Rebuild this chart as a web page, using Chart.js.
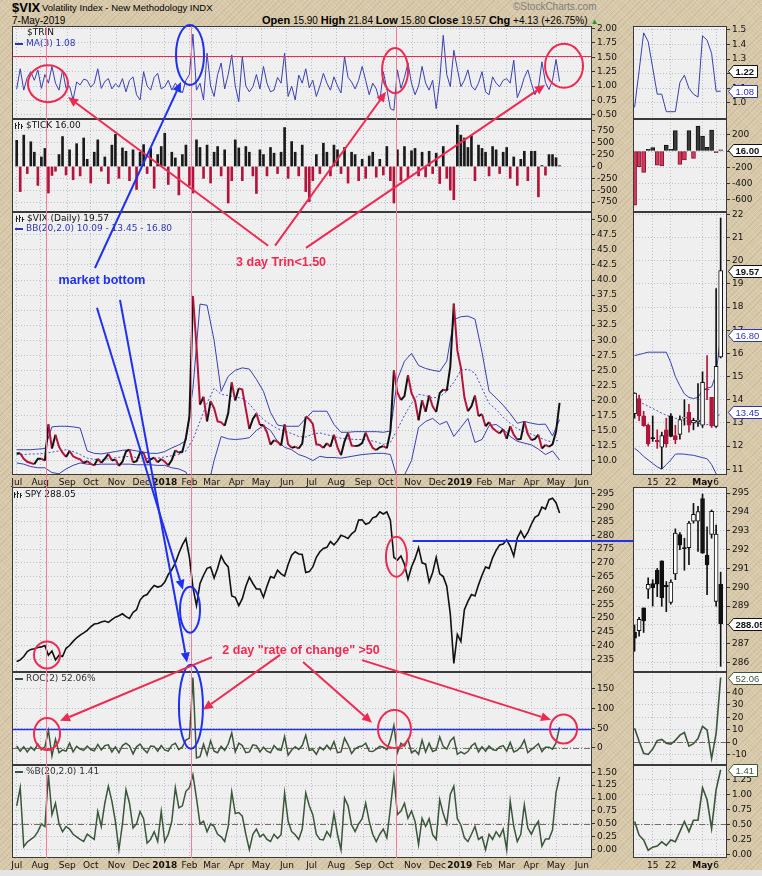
<!DOCTYPE html>
<html>
<head>
<meta charset="utf-8">
<title>$VIX Volatility Index - New Methodology</title>
<script src="https://cdn.jsdelivr.net/npm/chart.js@4.4.1/dist/chart.umd.min.js"></script>
<style>
  html, body { margin: 0; padding: 0; }
  #wrap {
    position: relative; width: 762px; height: 876px; overflow: hidden;
    background-color: #d7c8a9;
    background-image:
      repeating-linear-gradient(45deg, rgba(255,255,255,0.13) 0 1px, transparent 1px 3px),
      repeating-linear-gradient(-45deg, rgba(110,80,40,0.10) 0 1px, transparent 1px 4px);
  }
  #wrap canvas { position: absolute; }
  .t { position: absolute; white-space: nowrap; font-family: "Liberation Sans", Arial, sans-serif; color: #000; line-height: 1; }
</style>
</head>
<body>
<div id="wrap">
  <div class="t" style="left:12px;top:1px;font-size:13px;font-weight:bold;">$VIX</div>
  <div class="t" style="left:42px;top:3px;font-size:9.5px;">Volatility Index - New Methodology INDX</div>
  <div class="t" style="left:513px;top:2px;font-size:10px;color:#7d7d7d;">©StockCharts.com</div>
  <div class="t" style="left:12px;top:16px;font-size:10px;">7-May-2019</div>
  <div class="t" style="left:262px;top:15px;font-size:10px;"><b style="font-size:11px">Open</b> 15.90 <b style="font-size:11px">High</b> 21.84 <b style="font-size:11px">Low</b> 15.80 <b style="font-size:11px">Close</b> 19.57 <b style="font-size:11px">Chg</b> +4.13 (+26.75%) <span style="color:#1d9a2c;font-size:8px">▲</span></div>
  <canvas id="ov" width="762" height="876" style="left:0;top:0;z-index:5;"></canvas>
  <div style="position:absolute;left:0;top:870px;width:762px;height:6px;background:#e4e4e4;"></div>
</div>
<script>
// samples every 3 trading days, index 0 = 3-Jul-2017, last sample = 7-May-2019
const STEP = 3;

const TRIN_MA3 = [
  0.95,1.30,0.93,1.15,1.25,1.10,1.28,0.96,1.20,1.05,
  1.34,1.05,0.93,1.28,0.96,1.00,0.76,1.07,1.02,1.12,
  1.10,0.98,1.05,1.30,0.96,1.08,1.13,0.95,1.04,0.98,
  1.13,0.90,1.10,1.16,0.85,0.76,1.25,1.00,0.93,1.15,
  1.22,0.95,0.99,1.10,0.93,1.05,0.96,0.88,1.10,1.20,
  1.90,0.93,1.05,0.76,1.57,1.00,0.82,1.20,1.40,0.95,
  1.20,1.54,1.00,0.73,1.51,1.00,0.90,0.99,1.20,0.95,
  1.34,1.05,0.90,0.93,1.15,1.05,1.57,0.82,1.00,0.76,
  1.19,1.05,1.30,0.97,1.10,0.82,1.00,1.22,1.05,0.93,
  1.16,1.00,0.88,1.51,1.15,1.07,0.95,1.10,1.34,1.10,
  0.85,1.05,0.95,0.73,1.25,0.95,0.61,0.58,1.28,0.96,
  1.15,1.40,1.05,0.85,1.00,1.34,1.05,0.93,1.10,0.61,
  1.10,1.88,1.20,0.99,1.62,1.30,0.99,1.10,1.28,1.00,
  0.93,1.05,1.25,0.90,0.85,1.16,1.05,0.99,1.10,1.13,
  1.05,1.45,0.80,0.95,1.15,1.28,1.05,0.85,0.97,1.42,
  1.06,0.94,1.10,1.46,1.08
];

const TICK = [
  550,-530,660,-150,520,300,-400,200,380,-560,
  -190,-100,250,630,-180,350,-280,480,-200,600,
  150,-350,300,560,-100,200,-360,450,675,-250,
  390,320,-300,350,-485,300,460,-150,380,-460,
  250,420,700,-380,300,180,-600,250,450,-400,
  -560,560,400,-250,450,-350,300,420,-200,350,
  -770,-300,560,390,-300,420,300,-200,-570,350,
  250,-200,400,280,-150,300,820,-250,525,300,
  -200,450,-530,-740,-300,250,-150,490,300,-200,
  450,350,-150,400,-350,300,250,-300,150,-250,
  220,300,-225,150,-180,420,-300,-770,350,-300,
  420,-250,330,380,-200,300,-220,320,-150,280,
  -360,420,-250,-500,-700,870,660,600,400,650,
  -300,450,380,300,-200,420,350,-150,300,400,
  -250,200,-400,150,320,-300,320,320,-640,20,
  -184,250,250,184,16
];

const VIX_CLOSE = [
  11.2,11.2,10.3,9.8,9.6,9.4,10.3,10.3,10.0,16.0,
  12.0,14.3,12.3,11.3,10.6,11.6,10.7,10.4,10.2,9.6,
  9.9,9.45,9.2,10.3,9.6,10.3,11.1,10.0,10.2,9.1,
  9.8,11.5,11.8,9.7,9.9,11.3,11.3,9.6,10.2,10.5,
  9.7,10.25,9.8,9.2,10.1,11.7,11.3,11.5,13.8,17.3,
  37.3,29.1,19.3,20.6,16.5,19.85,18.7,16.5,16.35,15.8,
  17.9,23.0,19.97,22.0,21.8,18.5,15.25,16.9,17.8,15.9,
  15.9,14.7,12.65,13.4,13.1,12.5,16.0,12.7,12.1,12.3,
  12.0,12.8,17.3,16.85,16.1,12.7,12.6,12.1,12.9,12.3,
  14.3,12.2,10.9,13.2,14.6,12.5,12.4,12.5,12.9,14.65,
  13.2,12.1,11.75,12.2,12.4,12.05,14.8,24.98,21.3,20.06,
  20.7,24.2,21.2,19.96,16.7,20.0,18.1,20.8,19.0,18.07,
  21.2,21.8,21.6,25.6,36.07,28.3,25.45,20.5,18.2,19.0,
  20.8,17.4,17.7,15.7,16.4,15.4,14.9,14.5,15.2,13.6,
  15.7,14.3,13.5,13.6,16.5,14.4,13.4,13.6,14.3,12.0,
  12.6,12.3,12.7,14.8,19.57
];

const SPY_CLOSE = [
  234.2,234.8,236.0,237.8,238.6,238.8,239.3,239.5,240.0,236.5,
  238.0,234.8,236.5,236.0,239.0,240.0,241.5,242.8,243.8,244.6,
  245.5,246.8,247.8,248.0,248.5,248.9,248.4,249.4,250.3,250.8,
  251.5,250.5,249.8,252.0,253.0,256.5,258.0,258.5,260.3,261.8,
  261.2,261.6,263.0,265.8,267.5,270.0,273.5,276.5,278.8,272.0,
  261.0,254.5,262.5,265.5,268.0,268.5,264.5,268.0,272.5,270.0,
  268.5,258.0,257.5,254.5,257.0,261.5,264.8,262.5,260.5,260.5,
  257.5,261.5,265.0,264.5,267.3,266.0,265.2,269.4,272.8,274.0,
  273.2,273.0,266.5,266.8,268.5,272.0,274.0,275.2,275.6,277.7,
  276.5,278.0,280.0,279.5,278.8,280.5,281.5,285.5,285.6,284.0,
  284.5,286.3,286.8,288.5,287.7,288.5,285.5,272.0,271.0,272.5,
  269.5,264.0,268.5,271.5,275.5,270.0,269.5,263.0,266.5,272.0,
  266.0,265.0,261.5,251.5,233.5,244.0,241.5,253.0,256.0,258.5,
  258.0,262.0,265.5,268.5,268.0,271.8,274.5,276.5,276.8,278.3,
  276.0,272.5,279.0,281.5,279.0,281.0,284.0,286.5,287.3,290.2,
  289.5,292.9,293.4,291.8,288.05
];

const ROC2 = [
  5,-8,3,-10,2,-6,10,-4,3,44,
  -20,22,-12,-5,-8,12,-10,4,-3,-6,
  5,-4,-7,9,-5,6,8,-10,3,-12,
  6,12,5,-15,3,10,-3,-12,5,4,
  -8,6,-5,-8,7,12,-4,3,20,25,
  178,-25,-22,10,-18,18,-8,-12,4,-6,
  10,38,-10,12,6,-12,-10,8,6,-10,
  2,-8,-12,6,-4,-6,29,-18,-5,3,
  -4,6,32,-6,-4,-16,2,-5,7,-4,
  16,-12,-10,25,8,-14,-2,3,5,12,
  -8,-9,-3,4,2,-4,20,57,-12,12,
  5,22,-12,-6,-16,20,-10,12,-9,-5,
  28,4,-3,18,27,-16,-10,-15,-9,5,
  12,-10,3,-8,5,-4,-6,3,6,-8,
  14,-10,-6,3,20,-12,-4,3,11,-9,
  2,2,-3,13,52.06
];

const PCT_B = [
  0.85,1.2,0.06,0.15,0.2,0.25,0.35,0.5,0.45,1.45,
  0.68,0.9,0.5,0.35,0.45,0.4,0.3,0.25,0.2,0.16,
  0.3,0.25,0.2,0.74,0.45,0.9,1.23,0.94,0.55,0.0,
  0.5,1.16,0.9,0.42,0.5,0.74,0.6,0.13,0.2,0.35,
  0.16,0.74,0.16,0.3,0.55,1.2,0.81,0.85,1.13,1.2,
  1.45,1.0,0.5,0.55,0.35,0.5,0.45,0.3,0.25,0.16,
  0.45,1.12,0.7,0.72,0.65,0.3,0.0,0.3,0.4,0.25,
  0.3,0.2,0.16,0.3,0.22,0.29,1.1,0.55,0.35,0.29,
  0.2,0.4,1.1,0.85,0.68,0.3,0.2,0.19,0.35,0.25,
  0.7,0.3,0.0,1.0,0.85,0.48,0.35,0.5,0.6,0.9,
  0.55,0.3,0.16,0.3,0.4,0.23,0.8,1.42,0.68,0.75,
  0.9,0.61,0.75,0.55,0.1,0.61,0.45,0.6,0.29,0.2,
  0.97,0.7,0.5,1.07,1.23,0.6,0.48,0.23,0.16,0.3,
  0.45,0.2,0.25,0.0,0.3,0.2,0.35,0.25,0.4,0.0,
  0.94,0.45,0.16,0.3,0.87,0.42,0.3,0.45,0.55,0.07,
  0.21,0.21,0.38,1.11,1.41
];

// Bollinger bands (20,2) of VIX, every 6 trading days
const BB_STEP = 6;
const BB_UPPER = [
  11.8,11.8,11.8,11.9,12.0,15.6,15.7,15.7,15.6,15.4,
  11.6,11.2,11.1,11.3,11.5,11.7,11.8,11.6,11.4,11.2,
  11.2,11.5,12.1,12.6,13.3,22.0,36.0,35.8,30.0,21.5,
  24.0,25.0,25.4,25.2,23.5,21.5,18.0,15.9,15.7,15.7,
  15.7,17.0,18.2,18.2,18.2,16.0,14.7,14.7,14.8,14.8,
  14.8,14.8,14.7,14.9,23.5,26.5,27.8,25.8,25.3,25.0,
  24.8,26.5,33.4,33.9,34.0,33.5,28.0,21.5,20.4,19.2,
  17.8,16.2,16.5,16.2,16.0,16.05,14.1,16.8
];
const BB_MID = [
  11.0,11.0,11.1,11.1,11.2,11.4,11.6,11.8,11.5,11.0,
  10.4,10.2,10.1,10.3,10.5,10.6,10.7,10.5,10.4,10.3,
  10.4,10.6,10.8,11.0,11.6,13.5,16.5,19.5,22.0,21.0,
  20.8,20.6,20.3,19.4,18.0,16.8,16.0,15.3,14.9,14.5,
  14.0,13.9,14.4,14.6,14.3,14.0,13.7,13.6,13.5,13.5,
  13.4,13.1,12.7,13.0,15.2,17.5,19.5,21.0,20.8,20.4,
  20.6,21.5,23.0,25.0,25.2,24.5,22.0,19.5,18.5,17.2,
  16.2,15.3,14.8,14.4,13.9,13.4,13.05,13.45
];
const BB_LOWER = [
  9.6,9.4,9.0,8.8,8.8,8.0,7.8,8.6,9.2,9.6,
  9.4,9.3,9.4,9.4,9.4,9.4,9.4,9.3,9.3,9.3,
  9.2,9.2,8.8,8.6,8.1,5.0,2.0,5.0,10.0,14.0,
  13.6,13.5,13.6,13.8,15.0,15.8,15.0,13.2,12.2,11.8,
  11.0,10.6,10.0,10.7,10.5,10.5,10.4,10.6,10.8,11.0,
  11.1,11.2,11.2,11.0,7.0,7.6,10.0,15.5,16.5,17.0,
  16.0,16.5,14.0,15.5,17.0,13.0,13.5,15.8,16.0,15.2,
  14.0,13.2,12.9,12.6,11.9,11.0,11.6,10.1
];

// month axis: first session of each month (trading-day index) and its label
const MONTH_DAYS = [0,20,43,63,85,106,126,147,166,187,208,230,251,272,295,314,337,358,377,398,417,438,459,481];
const MONTH_LABELS = ['Jul','Aug','Sep','Oct','Nov','Dec','2018','Feb','Mar','Apr','May','Jun','Jul','Aug','Sep','Oct','Nov','Dec','2019','Feb','Mar','Apr','May','Jun'];

// right-hand zoom: 20 sessions, 9-Apr-2019 .. 7-May-2019
const R_TICK_DAYS = [4, 8, 15, 18];
const R_TICK_LABELS = ['15', '22', 'May', '6'];
const R_TRIN = [0.97,1.22,1.48,1.42,1.24,1.06,1.06,0.94,0.94,0.94,1.14,1.19,1.10,1.06,1.04,1.46,1.43,1.34,1.08,1.08];
const R_TICK = [-663,-192,-262,20,41,-172,-184,74,20,250,-164,-110,250,-90,307,184,45,258,-20,16];
const R_VIX_OPEN  = [13.4,14.05,13.3,12.9,12.35,12.25,11.95,12.7,13.3,12.45,12.5,13.2,13.45,13.0,13.05,12.9,14.45,14.1,12.85,15.85];
const R_VIX_HIGH  = [14.3,14.2,13.5,12.95,13.3,12.7,12.6,13.2,13.4,12.9,13.3,14.0,13.8,13.2,14.7,15.2,15.9,14.1,18.8,21.84];
const R_VIX_LOW   = [13.2,13.1,12.85,12.0,12.2,11.9,11.03,11.95,12.4,12.1,12.3,12.9,12.6,12.7,12.85,12.8,14.0,12.8,12.8,15.8];
const R_VIX_CLOSE = [14.28,13.3,12.88,12.09,12.32,12.18,12.45,12.09,12.42,12.28,13.14,13.25,12.9,13.11,13.12,14.75,14.42,12.87,15.44,19.57];
const R_BB_UPPER = [15.9,15.95,16.0,16.05,16.05,16.05,16.05,16.05,15.6,15.0,14.6,14.25,14.1,14.05,14.1,14.4,14.5,14.55,15.1,16.8];
const R_BB_MID   = [13.95,13.9,13.82,13.72,13.62,13.52,13.42,13.33,13.26,13.2,13.15,13.1,13.05,13.02,12.98,12.95,12.92,12.95,13.15,13.45];
const R_BB_LOWER = [11.9,11.75,11.55,11.4,11.25,11.1,11.0,11.2,11.4,11.65,11.66,11.65,11.62,11.6,11.55,11.5,11.45,11.2,10.8,10.09];
const R_SPY_OPEN  = [287.6,287.7,288.9,289.9,290.2,290.9,291.4,290.1,289.2,290.7,292.8,292.1,292.1,293.5,293.5,294.7,291.7,292.8,289.25,290.15];
const R_SPY_HIGH  = [288.0,288.4,288.9,290.5,290.4,291.0,291.4,290.3,290.4,293.1,292.9,292.6,293.5,294.45,294.3,294.95,293.2,294.1,293.3,290.8];
const R_SPY_LOW   = [286.6,287.4,287.6,289.4,289.0,289.5,288.99,288.7,289.1,290.4,292.0,290.9,291.2,293.4,291.9,291.8,289.6,292.6,289.0,285.8];
const R_SPY_CLOSE = [287.3,288.29,288.21,290.16,289.97,290.16,289.45,290.02,290.27,292.88,292.23,292.05,293.41,293.87,294.02,291.81,291.18,294.03,292.82,288.05];
const R_ROC2 = [11.4,0.9,-8.8,-9.7,-5.4,1.4,2.3,-0.7,-1.4,1.6,5.8,7.9,-3.1,-1.1,3.1,12.9,9.9,-13,7.1,52.06];
const R_PCT_B = [0.55,0.32,0.24,0.07,0.12,0.14,0.21,0.15,0.24,0.21,0.38,0.55,0.38,0.57,0.57,1.11,0.91,0.43,1.08,1.41];

// y axis tick values
const Y_TICKS = {
  trin: [0.5,0.75,1.0,1.25,1.5,1.75,2.0],
  tick: [-750,-500,-250,0,250,500,750],
  vix: [10,12.5,15,17.5,20,22.5,25,27.5,30,32.5,35,37.5,40,42.5,45,47.5,50],
  spy: [235,240,245,250,255,260,265,270,275,280,285,290,295],
  roc: [0,50,100,150],
  pctb: [0,0.25,0.5,0.75,1.0,1.25,1.5],
  rtrin: [1.0,1.1,1.2,1.3,1.4,1.5],
  rtick: [-600,-400,-200,0,200],
  rvix: [11,12,13,14,15,16,17,18,19,20,21,22],
  rspy: [286,287,288,289,290,291,292,293,294,295],
  rroc: [-10,0,10,20,30,40],
  rpctb: [0,0.25,0.5,0.75,1.0,1.25]
};

// annotations drawn on top (data coordinates of the named panel)
const MARK_DAYS = [25, 148, 323];
const TRIN_LIMIT = 1.52, ROC_LIMIT = 47, SPY_RESIST = 278, SPY_RESIST_FROM = 337;

const FONT = '"DejaVu Sans", sans-serif';
const GRID = '#b7c1ce';
const RED = '#b4143c', BLACK = '#111111', BLUE = '#3a40b0', GREEN = '#3b563b', DASHDOT = '#7d6b5c';
const RED_A = '#ef2a52', BLUE_A = '#1f30ee', RED_V = '#f27b95';

const LEFT = {left: 0, width: 630, padL: 12, yW: 38, xmin: -4, xmax: 489.6,
  ticks: MONTH_DAYS, labels: MONTH_LABELS, bold: /^(2018|2019)$/};
const RIGHT = {left: 620, width: 142, padL: 13, yW: 35, xmin: -0.35, xmax: 20.4,
  ticks: R_TICK_DAYS, labels: R_TICK_LABELS, bold: /^May$/};
const ROWS = {
  trin: {top: 26, h: 93}, tick: {top: 119, h: 93}, vix: {top: 212, h: 263, xLab: true},
  spy: {top: 487, h: 185}, roc: {top: 672, h: 93}, pctb: {top: 765, h: 93, xLab: true}
};
const PAD = 8, XLAB = 14;

const pts = (arr, step) => arr.map((v, i) => ({x: i * step, y: v}));

const EXTRA = {};
function refLines(chart, over) {
  const ex = EXTRA[chart.canvas.id] || {};
  const a = chart.chartArea, ctx = chart.ctx;
  ctx.save();
  ctx.beginPath(); ctx.rect(a.left, a.top, a.width, a.height); ctx.clip();
  for (const L of ex.lines || []) {
    if (!!L.over !== over) continue;
    const y = Math.round(chart.scales.y.getPixelForValue(L.v)) + 0.5;
    ctx.strokeStyle = L.c; ctx.lineWidth = L.w || 1; ctx.setLineDash(L.dash || []);
    ctx.beginPath(); ctx.moveTo(a.left, y); ctx.lineTo(a.right, y); ctx.stroke();
  }
  ctx.restore();
}
function drawIcon(ctx, x, y) {
  ctx.fillStyle = '#222';
  ctx.fillRect(x, y - 3, 1, 6); ctx.fillRect(x + 1, y - 1, 1, 1);
  ctx.fillRect(x + 3, y - 4, 1, 7); ctx.fillRect(x + 4, y - 2, 1, 1);
  ctx.fillRect(x + 6, y - 2, 1, 5); ctx.fillRect(x + 7, y, 1, 1);
}
function drawTag(ctx, a, yv, T) {
  ctx.font = (T.b ? 'bold ' : '') + '9.5px "Liberation Sans", Arial, sans-serif';
  const w = Math.ceil(ctx.measureText(T.t).width) + 5;
  const x0 = a.right + 1.5, y = Math.round(yv) + 0.5;
  ctx.beginPath();
  ctx.moveTo(x0, y); ctx.lineTo(x0 + 5, y - 6); ctx.lineTo(x0 + 5 + w, y - 6);
  ctx.lineTo(x0 + 5 + w, y + 6); ctx.lineTo(x0 + 5, y + 6); ctx.closePath();
  ctx.fillStyle = '#fff'; ctx.fill();
  ctx.strokeStyle = T.c; ctx.lineWidth = 1; ctx.stroke();
  ctx.fillStyle = T.c; ctx.textBaseline = 'middle'; ctx.textAlign = 'left';
  ctx.fillText(T.t, x0 + 7, y + 0.5);
}

Chart.register({
  id: 'scPanel',
  beforeDraw(chart) {
    const a = chart.chartArea, ctx = chart.ctx;
    ctx.save(); ctx.fillStyle = '#efefef'; ctx.fillRect(a.left, a.top, a.width, a.height); ctx.restore();
  },
  beforeDatasetsDraw(chart) { refLines(chart, false); },
  afterDatasetsDraw(chart) { refLines(chart, true); },
  afterDraw(chart) {
    const ex = EXTRA[chart.canvas.id] || {};
    const a = chart.chartArea, ctx = chart.ctx;
    ctx.save();
    ctx.strokeStyle = '#3a3a3a'; ctx.lineWidth = 1; ctx.setLineDash([]);
    ctx.strokeRect(a.left + 0.5, a.top + 0.5, a.width - 1, a.height - 1);
    for (const L of ex.labels || []) {
      const x = a.left + L.dx, y = a.top + L.dy;
      if (L.dash) { ctx.fillStyle = L.dash; ctx.fillRect(x - 11, Math.round(y) - 1, 8, 2); }
      if (L.icon) drawIcon(ctx, x - 11, Math.round(y));
      ctx.fillStyle = L.c || '#111'; ctx.font = '9px ' + FONT;
      ctx.textBaseline = 'middle'; ctx.textAlign = 'left';
      ctx.fillText(L.t, x, y);
    }
    for (const T of ex.tags || []) drawTag(ctx, a, chart.scales.y.getPixelForValue(T.v), T);
    ctx.restore();
  }
});

const wrap = document.getElementById('wrap');
const CH = {}, POS = {};

function build(name, side, rowKey, type, datasets, yMin, yMax, dec, extra) {
  const row = ROWS[rowKey];
  const top = row.top - PAD;
  const h = PAD + row.h + (row.xLab ? XLAB : PAD);
  const c = document.createElement('canvas');
  c.id = name; c.width = side.width; c.height = h;
  c.style.left = side.left + 'px'; c.style.top = top + 'px';
  c.style.width = side.width + 'px'; c.style.height = h + 'px';
  wrap.insertBefore(c, document.getElementById('ov'));
  POS[name] = {left: side.left, top: top};
  EXTRA[name] = extra || {};
  const yt = Y_TICKS[name];
  const labelAt = v => side.labels[side.ticks.indexOf(v)] ?? '';
  CH[name] = new Chart(c, {
    type: type,
    data: {datasets: datasets},
    options: {
      responsive: false, animation: false, devicePixelRatio: 1, events: [],
      layout: {padding: {left: side.padL, right: 0, top: PAD, bottom: row.xLab ? 0 : PAD}},
      plugins: {legend: {display: false}, tooltip: {enabled: false}},
      scales: {
        x: {
          type: 'linear', min: side.xmin, max: side.xmax, offset: false,
          afterBuildTicks: ax => { ax.ticks = side.ticks.map(v => ({value: v})); },
          afterFit: ax => { ax.height = row.xLab ? XLAB : 0; },
          grid: {color: GRID, drawTicks: false, offset: false},
          border: {display: false, dash: [1, 2]},
          ticks: {
            display: !!row.xLab, autoSkip: false, maxRotation: 0, minRotation: 0, padding: 2, color: '#111',
            callback: v => labelAt(v),
            font: ctx => ({family: FONT, size: 9,
              weight: ctx.tick && side.bold.test(labelAt(ctx.tick.value)) ? 'bold' : 'normal'})
          }
        },
        y: {
          type: 'linear', position: 'right', min: yMin, max: yMax,
          afterBuildTicks: ax => { ax.ticks = yt.map(v => ({value: v})); },
          afterFit: ax => { ax.width = side.yW; },
          grid: {color: GRID, tickColor: '#333', tickLength: 3, tickBorderDash: [], drawTicks: true},
          border: {display: false, dash: [1, 2]},
          ticks: {autoSkip: false, padding: 2, color: '#111', font: {family: FONT, size: 9},
            callback: v => Number(v).toFixed(dec)}
        }
      }
    }
  });
}

const line = (data, color, width, more) => Object.assign({type: 'line', data: data, borderColor: color,
  borderWidth: width, pointRadius: 0, tension: 0, fill: false}, more || {});

// ---------- left, full history ----------
build('trin', LEFT, 'trin', 'line', [line(pts(TRIN_MA3, STEP), BLUE, 1)], 0.43, 2.04, 2, {
  labels: [{dx: 15, dy: 7, t: '$TRIN'}, {dx: 14, dy: 17.5, t: 'MA(3) 1.08', c: '#2d35b5', dash: '#2d35b5'}],
  lines: [{v: TRIN_LIMIT, c: RED_A, w: 1, over: true}]
});

build('tick', LEFT, 'tick', 'bar', [{
  data: pts(TICK, STEP), barThickness: 2, borderWidth: 0,
  backgroundColor: ctx => (ctx.parsed && ctx.parsed.y < 0) ? RED : '#1a1a1a'
}], -960, 1000, 0, {labels: [{dx: 14, dy: 7, t: '$TICK 16.00', icon: true}]});

build('vix', LEFT, 'vix', 'line', [
  line(pts(VIX_CLOSE, STEP), BLACK, 2, {segment: {borderColor: s => s.p1.parsed.y < s.p0.parsed.y ? RED : BLACK}}),
  line(pts(BB_UPPER, BB_STEP), BLUE, 1),
  line(pts(BB_MID, BB_STEP), '#4a52c8', 1, {borderDash: [2, 2]}),
  line(pts(BB_LOWER, BB_STEP), BLUE, 1)
], 7.6, 51.3, 1, {
  labels: [{dx: 15, dy: 7, t: '$VIX (Daily) 19.57', icon: true},
           {dx: 14, dy: 16.5, t: 'BB(20,2.0) 10.09 - 13.45 - 16.80', c: '#2d35b5', dash: '#2d35b5'}]
});

build('spy', LEFT, 'spy', 'line', [line(pts(SPY_CLOSE, STEP), BLACK, 1.6)], 230.4, 297.5, 0, {
  labels: [{dx: 13, dy: 8, t: 'SPY 288.05', icon: true}]
});

build('roc', LEFT, 'roc', 'line', [line(pts(ROC2, STEP), GREEN, 1.5)], -43, 192, 0, {
  labels: [{dx: 14, dy: 7, t: 'ROC(2) 52.06%', c: '#333', dash: GREEN}],
  lines: [{v: 0, c: DASHDOT, dash: [6, 2, 1, 2]}, {v: ROC_LIMIT, c: BLUE_A, w: 1.5, over: true}]
});

build('pctb', LEFT, 'pctb', 'line', [line(pts(PCT_B, STEP), GREEN, 1.5)], -0.16, 1.64, 2, {
  labels: [{dx: 14, dy: 7, t: '%B(20,2.0) 1.41', c: '#333', dash: GREEN}],
  lines: [{v: 0.5, c: DASHDOT, dash: [6, 2, 1, 2]}]
});

// ---------- right, last 20 sessions ----------
function candles(O, H, L, C, upDownColors) {
  const col = i => upDownColors ? ((i > 0 && C[i] < C[i - 1]) ? RED : BLACK) : BLACK;
  return [
    {type: 'bar', data: O.map((o, i) => ({x: i, y: [o, C[i]]})), grouped: false, barThickness: 4,
     minBarLength: 1, borderWidth: 1, borderSkipped: false,
     borderColor: ctx => col(ctx.dataIndex),
     backgroundColor: ctx => C[ctx.dataIndex] > O[ctx.dataIndex] ? '#ffffff' : col(ctx.dataIndex)},
    {type: 'bar', data: L.map((l, i) => ({x: i, y: [l, H[i]]})), grouped: false, barThickness: 1,
     borderWidth: 0, backgroundColor: ctx => col(ctx.dataIndex)}
  ];
}

build('rtrin', RIGHT, 'trin', 'line', [line(pts(R_TRIN, 1), BLUE, 1)], 0.89, 1.527, 1, {
  tags: [{v: 1.22, t: '1.22', c: '#111', b: true}, {v: 1.08, t: '1.08', c: '#2d35b5'}]
});
build('rtick', RIGHT, 'tick', 'bar', [{
  data: pts(R_TICK, 1), barThickness: 4, borderWidth: 1, borderSkipped: false,
  borderColor: ctx => (ctx.parsed && ctx.parsed.y < 0) ? '#8c1030' : '#111',
  backgroundColor: ctx => (ctx.parsed && ctx.parsed.y < 0) ? '#d23a5c' : '#3a3a3a'
}], -748, 393, 0, {tags: [{v: 16, t: '16.00', c: '#111', b: true}]});
build('rvix', RIGHT, 'vix', 'bar', [
  ...candles(R_VIX_OPEN, R_VIX_HIGH, R_VIX_LOW, R_VIX_CLOSE, true),
  line(pts(R_BB_UPPER, 1), BLUE, 1),
  line(pts(R_BB_MID, 1), '#4a52c8', 1, {borderDash: [2, 2]}),
  line(pts(R_BB_LOWER, 1), BLUE, 1)
], 10.75, 22.1, 0, {
  tags: [{v: 19.57, t: '19.57', c: '#111', b: true}, {v: 16.80, t: '16.80', c: '#2d35b5'}, {v: 13.45, t: '13.45', c: '#2d35b5'}]
});
build('rspy', RIGHT, 'spy', 'bar', candles(R_SPY_OPEN, R_SPY_HIGH, R_SPY_LOW, R_SPY_CLOSE, false),
  285.5, 295.32, 0, {tags: [{v: 288.05, t: '288.05', c: '#111', b: true}]});
build('rroc', RIGHT, 'roc', 'line', [line(pts(R_ROC2, 1), GREEN, 1.6)], -18.2, 56.5, 0, {
  lines: [{v: 0, c: DASHDOT, dash: [6, 2, 1, 2]}],
  tags: [{v: 52.06, t: '52.06', c: GREEN}]
});
build('rpctb', RIGHT, 'pctb', 'line', [line(pts(R_PCT_B, 1), GREEN, 1.6)], -0.06, 1.49, 2, {
  lines: [{v: 0.5, c: DASHDOT, dash: [6, 2, 1, 2]}],
  tags: [{v: 1.41, t: '1.41', c: GREEN}]
});

// ---------- hand-drawn annotations, anchored to panel data coordinates ----------
const CIRCLES = [
  {p: 'trin', x: 26.6, y: 1.04, rx: 20, ry: 18.5, c: RED_A},
  {p: 'trin', x: 322, y: 1.27, rx: 13, ry: 22.5, c: RED_A},
  {p: 'trin', x: 465.8, y: 1.35, rx: 19, ry: 22, c: RED_A},
  {p: 'trin', x: 147.5, y: 1.54, rx: 14, ry: 30, c: BLUE_A},
  {p: 'spy', x: 25.8, y: 236.6, rx: 13, ry: 13.5, c: RED_A},
  {p: 'spy', x: 147.5, y: 253, rx: 10, ry: 23, c: BLUE_A},
  {p: 'spy', x: 323.2, y: 272.2, rx: 10.5, ry: 20, c: RED_A},
  {p: 'roc', x: 25.8, y: 35.5, rx: 13, ry: 16, c: RED_A},
  {p: 'roc', x: 148.3, y: 104, rx: 12, ry: 42, c: BLUE_A},
  {p: 'roc', x: 321.5, y: 48, rx: 16.5, ry: 19, c: RED_A},
  {p: 'roc', x: 465.4, y: 48, rx: 13.5, ry: 14.5, c: RED_A}
];
const ARROWS = [
  {from: ['vix', 214, 45.7], to: ['trin', 43.7, 0.81], c: RED_A},
  {from: ['vix', 219.9, 45.7], to: ['trin', 314.3, 0.90], c: RED_A},
  {from: ['vix', 246.2, 45.35], to: ['trin', 449.6, 1.02], c: RED_A},
  {from: ['vix', 66.6, 42.0], to: ['trin', 139.8, 1.07], c: BLUE_A},
  {from: ['vix', 68.3, 35.4], to: ['spy', 141.5, 260.2], c: BLUE_A},
  {from: ['vix', 87.9, 36.7], to: ['roc', 145, 215.7], c: BLUE_A},
  {from: ['spy', 166.2, 235.8], to: ['roc', 36.9, 68.5], c: RED_A},
  {from: ['spy', 224.1, 236.6], to: ['roc', 158.5, 96.4], c: RED_A},
  {from: ['spy', 243.7, 234.0], to: ['roc', 302.4, 63.5], c: RED_A},
  {from: ['spy', 293.9, 234.7], to: ['roc', 454.7, 71.1], c: RED_A}
];
const NOTES = [
  {p: 'vix', x: 225, y: 42.86, t: '3 day Trin<1.50', c: RED_A},
  {p: 'vix', x: 72.6, y: 39.9, t: 'market bottom', c: BLUE_A},
  {p: 'spy', x: 242, y: 238.0, t: '2 day "rate of change" >50', c: RED_A}
];

function P(p, x, y) {
  const c = CH[p];
  return [POS[p].left + c.scales.x.getPixelForValue(x), POS[p].top + c.scales.y.getPixelForValue(y)];
}
function arrow(ctx, a, b, col) {
  const ang = Math.atan2(b[1] - a[1], b[0] - a[0]);
  const L = 10, W = 4.5;
  const bx = b[0] - Math.cos(ang) * L, by = b[1] - Math.sin(ang) * L;
  ctx.strokeStyle = col; ctx.lineWidth = 2;
  ctx.beginPath(); ctx.moveTo(a[0], a[1]); ctx.lineTo(bx, by); ctx.stroke();
  ctx.fillStyle = col;
  ctx.beginPath(); ctx.moveTo(b[0], b[1]);
  ctx.lineTo(bx + Math.sin(ang) * W, by - Math.cos(ang) * W);
  ctx.lineTo(bx - Math.sin(ang) * W, by + Math.cos(ang) * W);
  ctx.closePath(); ctx.fill();
}

(function drawOverlay() {
  const ctx = document.getElementById('ov').getContext('2d');
  const top = POS.trin.top + CH.trin.chartArea.top;
  const bottom = POS.pctb.top + CH.pctb.chartArea.bottom;
  ctx.strokeStyle = RED_V; ctx.lineWidth = 1;
  for (const d of MARK_DAYS) {
    const x = Math.round(P('trin', d, 1)[0]) + 0.5;
    ctx.beginPath(); ctx.moveTo(x, top); ctx.lineTo(x, bottom); ctx.stroke();
  }
  // SPY resistance line, runs on to the zoom panel
  const s0 = P('spy', SPY_RESIST_FROM, SPY_RESIST);
  const xEnd = POS.rspy.left + CH.rspy.chartArea.left;
  ctx.strokeStyle = BLUE_A; ctx.lineWidth = 2;
  ctx.beginPath(); ctx.moveTo(s0[0], Math.round(s0[1])); ctx.lineTo(xEnd, Math.round(s0[1])); ctx.stroke();

  for (const e of CIRCLES) {
    const c = P(e.p, e.x, e.y);
    ctx.strokeStyle = e.c; ctx.lineWidth = 2;
    ctx.beginPath(); ctx.ellipse(c[0], c[1], e.rx, e.ry, 0, 0, Math.PI * 2); ctx.stroke();
  }
  for (const a of ARROWS) arrow(ctx, P(...a.from), P(...a.to), a.c);
  ctx.font = 'bold 12.5px "Liberation Sans", Arial, sans-serif';
  ctx.textAlign = 'center'; ctx.textBaseline = 'middle';
  for (const n of NOTES) {
    const q = P(n.p, n.x, n.y);
    ctx.fillStyle = n.c; ctx.fillText(n.t, q[0], q[1]);
  }
})();
</script>
</body>
</html>
